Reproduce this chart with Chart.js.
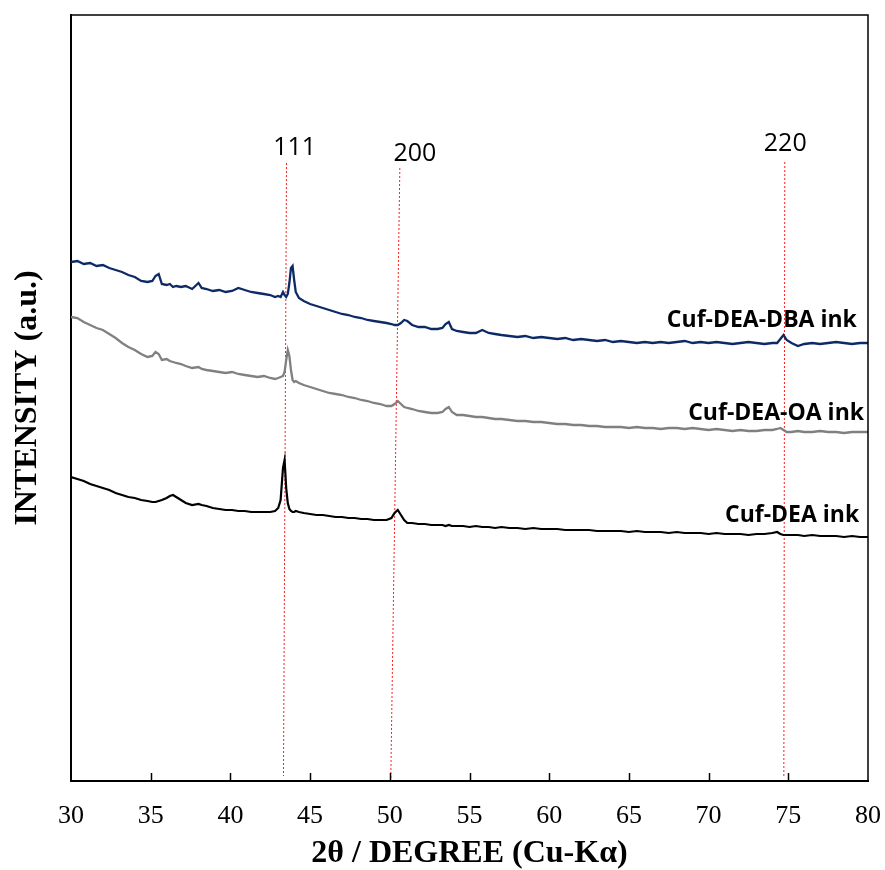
<!DOCTYPE html>
<html>
<head>
<meta charset="utf-8">
<title>XRD</title>
<script src="https://cdn.jsdelivr.net/npm/chart.js@4.4.1/dist/chart.umd.min.js"></script>
<style>
  html, body { margin: 0; padding: 0; background: #fff; }
  #xrdchart { display: block; }
</style>
</head>
<body>
<canvas id="xrdchart" width="885" height="870"></canvas>
<script>
"use strict";

/*----------------------------------------*/
/*  data
/*----------------------------------------*/
var twoTheta = [
	30.0, 30.4, 30.8, 31.2, 31.6, 32.0, 32.4, 32.8, 33.2, 33.6,
	34.0, 34.4, 34.8, 35.1, 35.3, 35.5, 35.7, 36.0, 36.2, 36.4,
	36.6, 36.9, 37.2, 37.6, 38.0, 38.2, 38.5, 38.9, 39.3, 39.7,
	40.1, 40.5, 40.9, 41.3, 41.7, 42.1, 42.5, 42.8, 43.0, 43.15,
	43.3, 43.4, 43.5, 43.6, 43.7, 43.8, 43.9, 44.0, 44.1, 44.3,
	44.6, 45.0, 45.4, 45.8, 46.2, 46.6, 47.0, 47.4, 47.8, 48.2,
	48.6, 49.0, 49.4, 49.8, 50.1, 50.3, 50.5, 50.7, 50.9, 51.1,
	51.4, 51.8, 52.2, 52.6, 53.0, 53.3, 53.5, 53.7, 53.9, 54.2,
	54.6, 55.0, 55.4, 55.8, 56.2, 56.6, 57.0, 57.5, 58.0, 58.5,
	59.0, 59.5, 60.0, 60.5, 61.0, 61.5, 62.0, 62.5, 63.0, 63.5,
	64.0, 64.5, 65.0, 65.5, 66.0, 66.5, 67.0, 67.5, 68.0, 68.5,
	69.0, 69.5, 70.0, 70.5, 71.0, 71.5, 72.0, 72.5, 73.0, 73.5,
	74.0, 74.3, 74.5, 74.7, 74.9, 75.2, 75.6, 76.0, 76.5, 77.0,
	77.5, 78.0, 78.5, 79.0, 79.5, 80.0
];

// Cuf-DEA-DBA ink (offset trace, top)
var dbaInk = [
	519, 520, 517, 518, 515, 516, 513, 511, 509, 506,
	504, 500, 499, 500, 505, 507, 497, 496, 497, 494,
	495, 494, 495, 492, 498, 493, 492, 490, 491, 489,
	490, 493, 491, 489, 488, 487, 486, 484, 485, 484,
	489, 486, 484, 487, 498, 513, 515, 501, 489, 483,
	480, 477, 475, 473, 471, 469, 467, 466, 464, 463,
	461, 460, 459, 458, 457, 456, 456, 458, 461, 460,
	456, 454, 454, 452, 452, 453, 457, 459, 452, 450,
	449, 448, 448, 451, 448, 447, 446, 445, 444, 445,
	443, 444, 443, 442, 443, 441, 442, 441, 440, 441,
	439, 440, 439, 438, 439, 438, 439, 438, 439, 440,
	438, 439, 438, 439, 438, 437, 438, 439, 438, 437,
	438, 438, 442, 446, 441, 438, 435, 437, 438, 437,
	438, 439, 438, 437, 438, 438
];

// Cuf-DEA-OA ink (offset trace, middle)
var oaInk = [
	464, 463, 459, 456, 453, 451, 447, 443, 438, 434,
	431, 427, 424, 425, 429, 427, 421, 422, 420, 419,
	418, 417, 415, 413, 414, 412, 411, 410, 409, 408,
	409, 407, 406, 405, 404, 405, 403, 402, 403, 404,
	405, 409, 421, 431, 425, 411, 401, 399, 400, 398,
	396, 394, 392, 390, 388, 387, 386, 384, 383, 381,
	380, 378, 377, 375, 375, 377, 380, 377, 374, 373,
	372, 370, 369, 368, 368, 369, 372, 374, 369, 366,
	366, 365, 364, 364, 363, 362, 362, 361, 360, 360,
	359, 359, 358, 357, 357, 356, 356, 355, 355, 354,
	354, 354, 353, 354, 353, 353, 352, 353, 353, 352,
	353, 352, 351, 352, 351, 350, 351, 350, 350, 351,
	351, 352, 353, 351, 349, 349, 350, 349, 349, 350,
	349, 349, 348, 349, 349, 349
];

// Cuf-DEA ink (bottom)
var deaInk = [
	304, 302, 300, 297, 295, 293, 291, 288, 286, 284,
	283, 281, 280, 279, 279, 280, 281, 283, 285, 286,
	284, 281, 278, 276, 277, 276, 275, 273, 272, 271,
	271, 270, 270, 269, 269, 269, 269, 270, 273, 281,
	313, 321, 293, 278, 272, 270, 269, 269, 270, 269,
	268, 267, 266, 266, 265, 264, 264, 263, 263, 262,
	262, 261, 261, 261, 263, 268, 271, 266, 261, 258,
	258, 257, 257, 256, 256, 256, 255, 256, 255, 255,
	255, 254, 255, 254, 254, 253, 254, 253, 253, 252,
	253, 252, 252, 252, 251, 251, 251, 251, 250, 250,
	250, 250, 249, 250, 249, 249, 249, 248, 249, 248,
	248, 248, 247, 248, 247, 247, 247, 246, 247, 247,
	248, 249, 247, 246, 246, 246, 246, 245, 246, 245,
	245, 245, 244, 245, 244, 244
];

var xTicks = [30, 35, 40, 45, 50, 55, 60, 65, 70, 75, 80];

// Cu reflections: hkl, 2theta at top / bottom of the guide line
var hklLabels = ["111", "200", "220"];
var hklTop = [43.52, 50.63, 74.78];
var hklBottom = [43.33, 50.06, 74.72];

var seriesNames = ["Cuf-DEA-DBA ink", "Cuf-DEA-OA ink", "Cuf-DEA ink"];

/*----------------------------------------*/
/*  label placement (data units)
/*----------------------------------------*/
var guideYTop = [618, 613, 619];
var guideYBottom = [5, 0, 3];
var hklTextPos = [[44.03, 633], [51.57, 627], [74.81, 637]];
var seriesTextPos = [[79.3, 461], [79.75, 368], [79.45, 266]];

function toPoints(xs, ys) {
	return xs.map(function (x, i) { return { x: x, y: ys[i] }; });
}

var datasets = [
	{ label: seriesNames[0], data: toPoints(twoTheta, dbaInk), borderColor: '#0d2a66', borderWidth: 2.3 },
	{ label: seriesNames[1], data: toPoints(twoTheta, oaInk), borderColor: '#808080', borderWidth: 2.3 },
	{ label: seriesNames[2], data: toPoints(twoTheta, deaInk), borderColor: '#000000', borderWidth: 2.2 }
];
hklLabels.forEach(function (h, i) {
	datasets.push({
		label: h,
		data: [{ x: hklTop[i], y: guideYTop[i] }, { x: hklBottom[i], y: guideYBottom[i] }],
		borderColor: '#ff1a1a',
		borderWidth: 1,
		borderDash: [2, 2]
	});
});

/*----------------------------------------*/
/*  frame, inward ticks and text labels
/*----------------------------------------*/
var decorations = {
	id: 'decorations',
	afterDatasetsDraw: function (chart) {
		var c = chart.ctx, a = chart.chartArea;
		var xs = chart.scales.x, ys = chart.scales.y;
		c.save();
		c.strokeStyle = '#000';
		c.lineWidth = 1.5;
		c.beginPath();
		c.moveTo(a.left, a.top);
		c.lineTo(a.right, a.top);
		c.lineTo(a.right, a.bottom);
		c.stroke();

		xTicks.slice(1, -1).forEach(function (t) {
			var px = Math.round(xs.getPixelForValue(t)) + 0.5;
			c.beginPath();
			c.moveTo(px, a.bottom);
			c.lineTo(px, a.bottom - 8);
			c.stroke();
		});

		c.fillStyle = '#000';
		c.textAlign = 'center';
		c.textBaseline = 'middle';
		c.font = '25px "Open Sans"';
		hklLabels.forEach(function (h, i) {
			c.fillText(h, xs.getPixelForValue(hklTextPos[i][0]), ys.getPixelForValue(hklTextPos[i][1]));
		});

		c.textAlign = 'right';
		c.font = 'bold 23px "Open Sans"';
		seriesNames.forEach(function (s, i) {
			c.fillText(s, xs.getPixelForValue(seriesTextPos[i][0]), ys.getPixelForValue(seriesTextPos[i][1]));
		});
		c.restore();
	}
};

var ctx = document.getElementById("xrdchart");
var xrdchart = new Chart(ctx, {
	type: 'line',
	data: { datasets: datasets },
	plugins: [decorations],
	options: {
		responsive: false,
		animation: false,
		devicePixelRatio: 1,
		layout: { padding: { top: 15, right: 17, left: 0, bottom: 0 } },
		elements: {
			point: { radius: 0 },
			line: { tension: 0, fill: false }
		},
		plugins: {
			legend: { display: false },
			tooltip: { enabled: false }
		},
		scales: {
			x: {
				type: 'linear',
				min: 30,
				max: 80,
				grid: { display: false, drawTicks: false },
				border: { display: true, color: '#000', width: 2 },
				afterBuildTicks: function (scale) {
					scale.ticks = xTicks.map(function (v) { return { value: v }; });
				},
				afterFit: function (scale) {
					scale.height = 89;
					scale.paddingLeft = 0;
					scale.paddingRight = 0;
				},
				ticks: {
					color: '#000',
					padding: 20,
					maxRotation: 0,
					autoSkip: false,
					font: { family: '"Liberation Serif", "Times New Roman", serif', size: 26 }
				},
				title: {
					display: true,
					text: '2θ / DEGREE (Cu-Kα)',
					color: '#000',
					padding: { top: 11, bottom: 0 },
					font: { family: '"Liberation Serif", "Times New Roman", serif', size: 32, weight: 'bold', lineHeight: 1 }
				}
			},
			y: {
				min: 0,
				max: 766,
				grid: { display: false, drawTicks: false },
				border: { display: true, color: '#000', width: 2 },
				ticks: { display: false },
				afterFit: function (scale) {
					scale.width = 71;
				},
				title: {
					display: true,
					text: 'INTENSITY (a.u.)',
					color: '#000',
					padding: { top: 12, bottom: 28 },
					font: { family: '"Liberation Serif", "Times New Roman", serif', size: 32, weight: 'bold', lineHeight: 1 }
				}
			}
		}
	}
});
</script>
</body>
</html>
